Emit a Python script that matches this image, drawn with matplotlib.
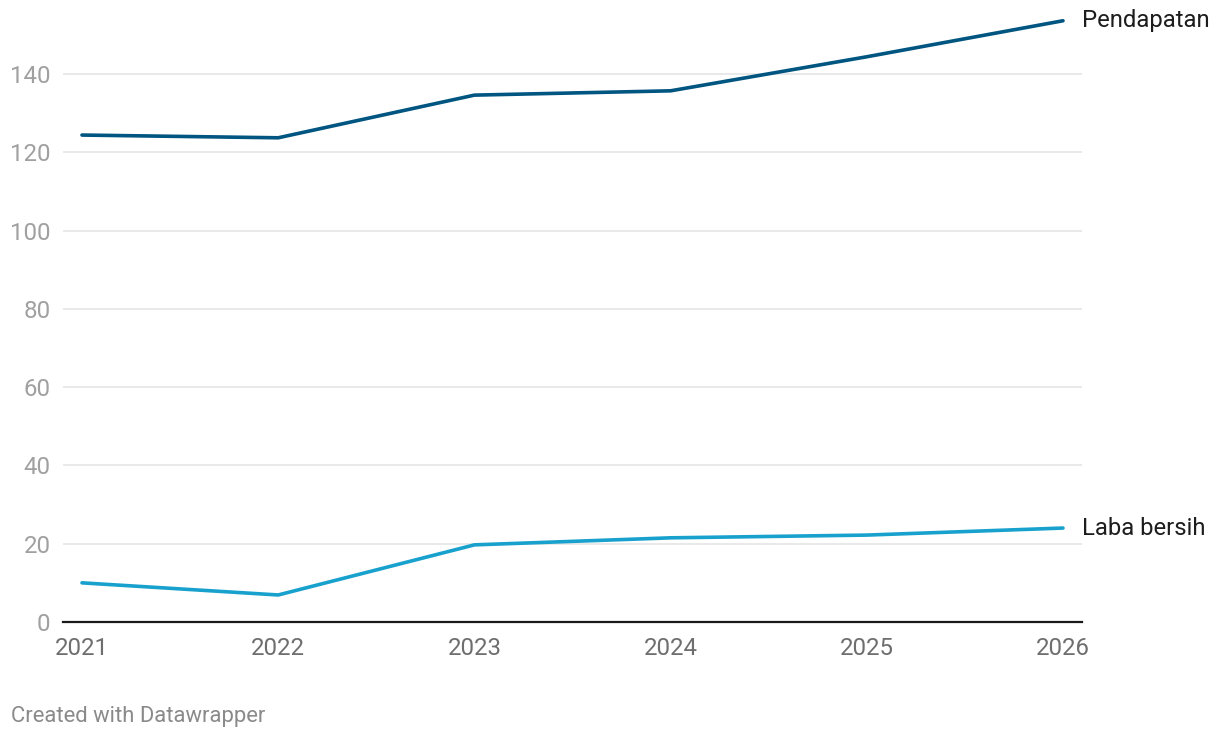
import matplotlib
matplotlib.use('Agg')
import matplotlib.pyplot as plt

years = [2021, 2022, 2023, 2024, 2025, 2026]
pendapatan = [124.4, 123.7, 134.6, 135.7, 144.4, 153.6]
laba_bersih = [10.0, 6.9, 19.7, 21.5, 22.2, 24.0]
series_names = ['Pendapatan', 'Laba bersih']
y_ticks = [0, 20, 40, 60, 80, 100, 120, 140]

plt.rcParams['font.family'] = ['Roboto', 'DejaVu Sans']

fig = plt.figure(figsize=(12.2, 7.38), dpi=100)
ax = fig.add_axes([0.0516, 0.1572, 0.8353, 0.8221])

colors = ['#005581', '#18a1cd']
for vals, name, c in zip([pendapatan, laba_bersih], series_names, colors):
    ax.plot(years, vals, color=c, lw=2.6, solid_capstyle='round', clip_on=False, zorder=3)
    ax.annotate(name, xy=(years[-1], vals[-1]), xytext=(14, 0), textcoords='offset points',
                va='center', ha='left', fontsize=17.2, color='#1d1d1d', annotation_clip=False)

ax.set_xlim(years[0] - 0.097, years[-1] + 0.097)
ax.set_ylim(0, 155)
ax.set_yticks(y_ticks)
ax.set_xticks(years)
ax.grid(axis='y', color='#e3e3e3', lw=1.1)
ax.set_axisbelow(True)
for s in ['top', 'right', 'left']:
    ax.spines[s].set_visible(False)
ax.spines['bottom'].set_color('#1a1a1a')
ax.spines['bottom'].set_linewidth(1.6)
ax.spines['bottom'].set_zorder(4)
ax.tick_params(axis='y', length=0, pad=9, labelsize=17.3, labelcolor='#a0a0a0')
ax.tick_params(axis='x', length=0, pad=11, labelsize=17.3, labelcolor='#6e6e6e')

fig.text(0.009, 0.022, 'Created with Datawrapper', fontsize=15.8, color='#8a8a8a', ha='left', va='baseline')

fig.savefig('out.png', dpi=100, facecolor='white')
